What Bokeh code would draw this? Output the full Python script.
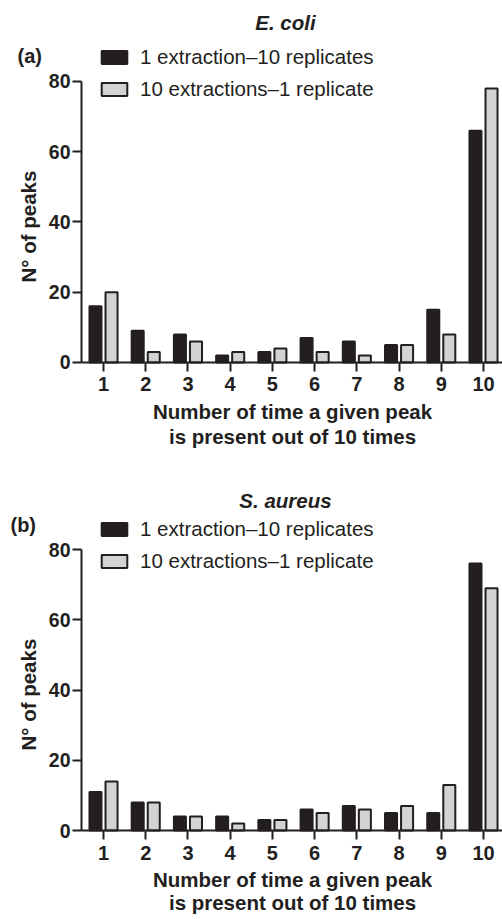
import math
import numpy as np
from bokeh.plotting import figure
from bokeh.layouts import column
from bokeh.models import Range1d, Legend, LegendItem, Label, FixedTicker
from bokeh.embed import file_html
from bokeh.resources import INLINE

categories = [1, 2, 3, 4, 5, 6, 7, 8, 9, 10]
ecoli_one_extraction = [16, 9, 8, 2, 3, 7, 6, 5, 15, 66]
ecoli_ten_extractions = [20, 3, 6, 3, 4, 3, 2, 5, 8, 78]
saureus_one_extraction = [11, 8, 4, 4, 3, 6, 7, 5, 5, 76]
saureus_ten_extractions = [14, 8, 4, 2, 3, 5, 6, 7, 13, 69]
series_names = ["1 extraction\u201310 replicates", "10 extractions\u20131 replicate"]
y_ticks = [0, 20, 40, 60, 80]
x_label_lines = ["Number of time a given peak", "is present out of 10 times"]
y_label = "N\u00b0 of peaks"

DARK = "#231f20"
GRAY = "#d1d3d4"
FONT = "Liberation Sans"

X_AXIS_AT = 0.479      # data x where the y axis sits
X_START = -1.4396      # frame left edge (figure left)
X_END = 10.45


def make_panel(title, tag, a_vals, b_vals, height, y_start, y_end,
               title_y, tag_x, tag_y, legend_loc, xlab_y):
    p = figure(width=502, height=height, output_backend="svg", toolbar_location=None,
               x_range=Range1d(X_START, X_END), y_range=Range1d(y_start, y_end),
               min_border_left=0, min_border_right=0, min_border_top=0,
               min_border_bottom=0)
    p.outline_line_color = None
    p.grid.visible = False

    xs = np.array(categories, dtype=float)
    r1 = p.vbar(x=xs - 0.19, top=a_vals, width=0.285, bottom=0,
                fill_color=DARK, line_color=DARK, line_width=2)
    r2 = p.vbar(x=xs + 0.19, top=b_vals, width=0.285, bottom=0,
                fill_color=GRAY, line_color=DARK, line_width=2)

    xa = p.xaxis[0]
    xa.fixed_location = 0
    xa.ticker = FixedTicker(ticks=categories)
    xa.bounds = (X_AXIS_AT, X_END)
    xa.axis_line_width = 2
    xa.axis_line_color = DARK
    xa.major_tick_line_width = 2
    xa.major_tick_line_color = DARK
    xa.major_tick_out = 9
    xa.major_tick_in = 0
    xa.minor_tick_line_color = None
    xa.major_label_text_font = FONT
    xa.major_label_text_font_style = "bold"
    xa.major_label_text_font_size = "20px"
    xa.major_label_text_color = DARK
    xa.major_label_standoff = 6

    ya = p.yaxis[0]
    ya.fixed_location = X_AXIS_AT
    ya.ticker = FixedTicker(ticks=y_ticks)
    ya.bounds = (0, 80)
    ya.axis_line_width = 2
    ya.axis_line_color = DARK
    ya.major_tick_line_width = 2
    ya.major_tick_line_color = DARK
    ya.major_tick_out = 9
    ya.major_tick_in = 0
    ya.minor_tick_line_color = None
    ya.major_label_text_font = FONT
    ya.major_label_text_font_style = "bold"
    ya.major_label_text_font_size = "19.5px"
    ya.major_label_text_color = DARK
    ya.major_label_standoff = 2

    legend = Legend(items=[LegendItem(label=series_names[0], renderers=[r1]),
                           LegendItem(label=series_names[1], renderers=[r2])],
                    location=legend_loc, orientation="vertical",
                    glyph_width=32, glyph_height=16, label_height=24,
                    label_standoff=10,
                    label_text_font=FONT, label_text_font_size="20.5px",
                    label_text_color=DARK, spacing=8, padding=0, margin=0,
                    background_fill_alpha=0, border_line_color=None)
    p.add_layout(legend, "center")

    p.add_layout(Label(x=5.31, y=title_y, text=title, text_align="center",
                       text_baseline="middle", text_font=FONT,
                       text_font_style="bold italic", text_font_size="20.5px",
                       text_color=DARK))
    p.add_layout(Label(x=tag_x, y=tag_y, text=tag, text_align="left",
                       text_baseline="middle", text_font=FONT,
                       text_font_style="bold", text_font_size="20px",
                       text_color=DARK))
    for line, ly in zip(x_label_lines, xlab_y):
        p.add_layout(Label(x=5.477, y=ly, text=line, text_align="center",
                           text_baseline="middle", text_font=FONT,
                           text_font_style="bold", text_font_size="20.5px",
                           text_color=DARK))
    p.add_layout(Label(x=-0.776, y=38.7, text=y_label, angle=math.pi / 2,
                       text_align="center", text_baseline="middle", text_font=FONT,
                       text_font_style="bold", text_font_size="20.5px",
                       text_color=DARK))
    return p


pa = make_panel("E. coli", "(a)", ecoli_one_extraction, ecoli_ten_extractions,
                height=467, y_start=-29.9, y_end=103.06,
                title_y=96.8, tag_x=-1.037, tag_y=87.4, legend_loc=(98, 366),
                xlab_y=[-14.0, -21.1])
pb = make_panel("S. aureus", "(b)", saureus_one_extraction, saureus_ten_extractions,
                height=447, y_start=-23.9, y_end=103.36,
                title_y=94.0, tag_x=-1.203, tag_y=87.1, legend_loc=(98, 341),
                xlab_y=[-13.8, -20.6])

layout = column(pa, pb, spacing=0)
open("out.html", "w").write(file_html(layout, INLINE))
